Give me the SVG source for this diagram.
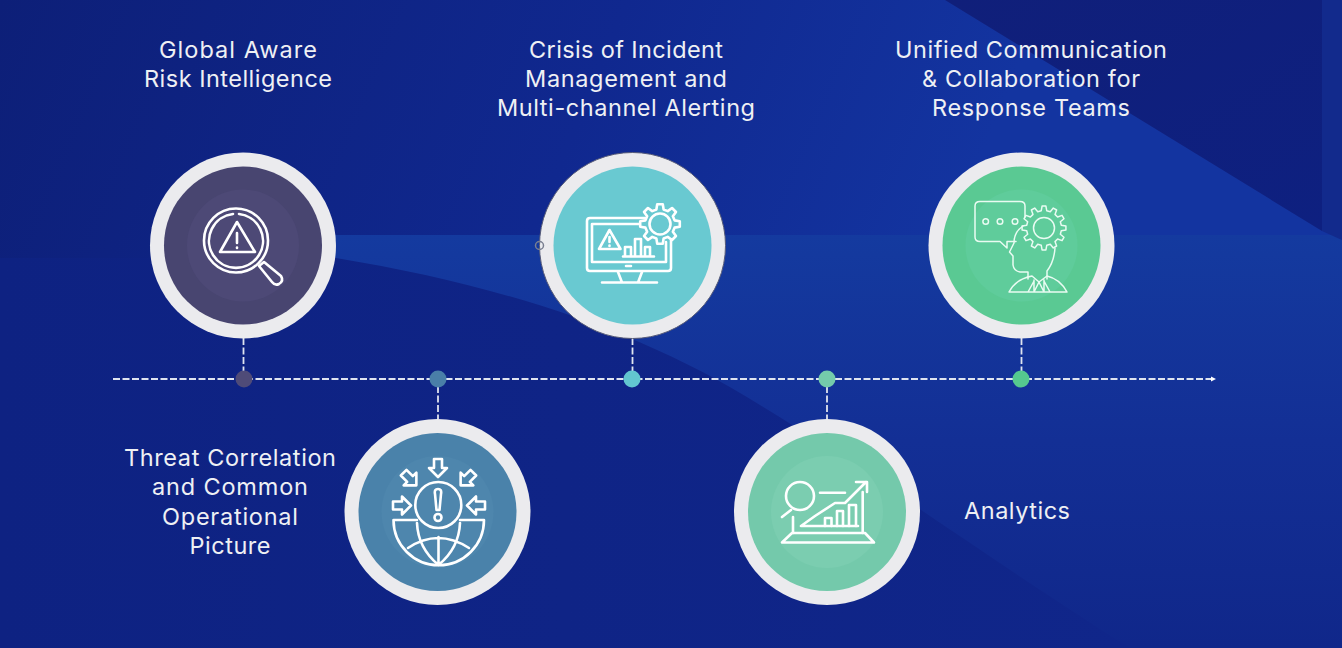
<svg xmlns="http://www.w3.org/2000/svg" width="1342" height="648" viewBox="0 0 1342 648">
<defs>
<linearGradient id="bg" x1="0" y1="0" x2="1" y2="0.2"><stop offset="0" stop-color="#0d1f78"/><stop offset="0.45" stop-color="#10288f"/><stop offset="0.75" stop-color="#1334a0"/><stop offset="1" stop-color="#1334a0"/></linearGradient>
<linearGradient id="band" x1="0" y1="0" x2="0" y2="1"><stop offset="0" stop-color="#143a9f"/><stop offset="0.5" stop-color="#132f95"/><stop offset="1" stop-color="#10278a"/></linearGradient>
<linearGradient id="low" x1="0" y1="0" x2="1" y2="0"><stop offset="0" stop-color="#0e2282"/><stop offset="1" stop-color="#10268a"/></linearGradient>
<linearGradient id="wedge" x1="0" y1="0" x2="1" y2="1"><stop offset="0" stop-color="#101f7a"/><stop offset="1" stop-color="#0e2080"/></linearGradient>
<marker id="ah" markerUnits="userSpaceOnUse" markerWidth="6" markerHeight="6" refX="3" refY="3" orient="auto"><path d="M0 0.5L5 3L0 5.5Z" fill="#fff"/></marker>
<path id="gear8" d="M14.55 -3.63L19.8 -2.78V2.78L14.55 3.63L12.86 7.73L15.97 12.04L12.04 15.97L7.73 12.86L3.63 14.55L2.78 19.8H-2.78L-3.63 14.55L-7.73 12.86L-12.04 15.97L-15.97 12.04L-12.86 7.73L-14.55 3.63L-19.8 2.78V-2.78L-14.55 -3.63L-12.86 -7.73L-15.97 -12.04L-12.04 -15.97L-7.73 -12.86L-3.63 -14.55L-2.78 -19.8H2.78L3.63 -14.55L7.73 -12.86L12.04 -15.97L15.97 -12.04L12.86 -7.73Z"/>
<path id="gear12" d="M17.28 -2.74L21.92 -1.92V1.92L17.28 2.74L16.34 6.27L19.94 9.3L18.02 12.62L13.6 11.01L11.01 13.6L12.62 18.02L9.3 19.94L6.27 16.34L2.74 17.28L1.92 21.92H-1.92L-2.74 17.28L-6.27 16.34L-9.3 19.94L-12.62 18.02L-11.01 13.6L-13.6 11.01L-18.02 12.62L-19.94 9.3L-16.34 6.27L-17.28 2.74L-21.92 1.92V-1.92L-17.28 -2.74L-16.34 -6.27L-19.94 -9.3L-18.02 -12.62L-13.6 -11.01L-11.01 -13.6L-12.62 -18.02L-9.3 -19.94L-6.27 -16.34L-2.74 -17.28L-1.92 -21.92H1.92L2.74 -17.28L6.27 -16.34L9.3 -19.94L12.62 -18.02L11.01 -13.6L13.6 -11.01L18.02 -12.62L19.94 -9.3L16.34 -6.27Z"/>
<path id="arr" d="M-4 -9H4V0H9L0 9L-9 0H-4Z"/>
</defs>
<style>
text{font-family:"Inter","Liberation Sans",sans-serif;font-size:23.5px;font-weight:400;fill:#eef0f4;text-anchor:middle}
.ring{fill:#ebebee}
.ic{fill:none;stroke:#fff;stroke-width:2.6;stroke-linecap:round;stroke-linejoin:round}
.th{stroke:#e9fbf2;stroke-width:1.5}
.conn{stroke:#dfe4ef;stroke-width:1.8;stroke-dasharray:7 2.5;fill:none}
</style>
<rect width="1342" height="648" fill="url(#bg)"/>
<path d="M336 235H1342V648H0V300Z" fill="url(#band)"/>
<path d="M336 258C500 285 640 330 760 405C860 465 990 560 1130 648H0V258Z" fill="url(#low)"/>
<path d="M945 0L1322 231V0Z" fill="url(#wedge)"/>
<path d="M1322 0H1342V240L1322 231Z" fill="#122a8c"/>

<g id="connectors">
<line class="conn" x1="113" y1="379" x2="1214" y2="379" marker-end="url(#ah)"/>
<line class="conn" x1="243.500" y1="338" x2="243.500" y2="372"/>
<line class="conn" x1="632.500" y1="338" x2="632.500" y2="372"/>
<line class="conn" x1="1021.500" y1="338" x2="1021.500" y2="372"/>
<line class="conn" x1="438" y1="386" x2="438" y2="419"/>
<line class="conn" x1="827" y1="386" x2="827" y2="419"/>
<circle cx="244" cy="379" r="8.500" fill="#4f4b78"/>
<circle cx="438" cy="379" r="8.500" fill="#4a7fa8"/>
<circle cx="632" cy="379" r="8.500" fill="#62c6d0"/>
<circle cx="827" cy="379" r="8.500" fill="#74cbab"/>
<circle cx="1021" cy="379" r="8.500" fill="#55c98f"/>
</g>

<g id="node-global-aware">
<text x="238" y="58" textLength="158">Global Aware</text><text x="238" y="87" textLength="188">Risk Intelligence</text>
<circle class="ring" cx="243" cy="245.500" r="93"/><circle cx="243" cy="245.500" r="79" fill="#484570"/><circle cx="243" cy="245.500" r="56" fill="#4d4976"/>
<circle class="ic" cx="236" cy="240.500" r="32"/>
<path class="ic" d="M239 214A27 27 0 1 1 233 214"/>
<path class="ic" d="M237 222L255 252H220Z"/><path class="ic" d="M237 233V243M237 247.500V248"/>
<path class="ic" d="M259 266L264 262L281 276Q284 281 279 284Q275 286 272 282Z"/>
</g>

<g id="node-crisis">
<text x="626" y="58" textLength="194">Crisis of Incident</text><text x="626" y="87" textLength="202">Management and</text><text x="626" y="116" textLength="258">Multi-channel Alerting</text>
<circle class="ring" cx="632.500" cy="245.500" r="93" stroke="#555a78" stroke-width="1"/><circle cx="632.500" cy="245.500" r="79" fill="#69c9d1"/>
<circle cx="539.500" cy="245.500" r="4" fill="none" stroke="#7a7f90" stroke-width="1.500"/>
<path class="ic" d="M645 218H590Q587 218 587 221V268Q587 271 590 271H668Q671 271 671 268V240M645 224H592V262H666V242"/>
<use href="#gear8" class="ic" style="fill:#69c9d1" transform="translate(660,224)"/>
<circle class="ic" cx="660" cy="224" r="10.500"/>
<path class="ic" d="M609.500 230L620.500 249H599Z"/><path class="ic" d="M609.500 237V242M609.500 245.500V246"/>
<path class="ic" d="M623 256.500H654M625 256.500V247H631V256.500M635 256.500V239H641V256.500M645 256.500V247H650V256.500M626 266H631"/>
<path class="ic" d="M618 272L622 282.500M642 272L638 282.500M602 282.500H657"/>
</g>

<g id="node-unified">
<text x="1031" y="58" textLength="272">Unified Communication</text><text x="1031" y="87" textLength="218">&amp; Collaboration for</text><text x="1031" y="116" textLength="198">Response Teams</text>
<circle class="ring" cx="1021.500" cy="245.500" r="93"/><circle cx="1021.500" cy="245.500" r="79" fill="#5ac993"/><circle cx="1021.500" cy="245.500" r="56" fill="#5fcc9b"/>
<g class="ic th">
<path d="M1025 217V206Q1025 201.500 1020 201.500H980Q975 201.500 975 206V237Q975 241.500 980 241.500H1000L1007 248V241.500H1016"/>
<circle cx="985.700" cy="221.500" r="2.800"/><circle cx="1000" cy="221.500" r="2.800"/><circle cx="1015" cy="221.500" r="2.800"/>
<use href="#gear12" transform="translate(1044,228)"/>
<circle cx="1044" cy="228" r="10.500"/>
<path d="M1023 226Q1014 232 1014 243L1009.500 252L1013 256V265Q1014 271 1020 272H1028V279M1055 248Q1054 262 1047 271V279"/>
<path d="M1009 292Q1016 279 1032 276L1039 282L1047 276Q1060 279 1067 292ZM1034 280V292M1044 280V292M1039 282L1034 292M1028 292L1034 281M1039 282L1044 292M1050 292L1044 281"/>
</g>
</g>

<g id="node-threat">
<text x="230" y="466" textLength="212">Threat Correlation</text><text x="230" y="495" textLength="156">and Common</text><text x="230" y="525" textLength="136">Operational</text><text x="230" y="554" textLength="81">Picture</text>
<circle class="ring" cx="437.500" cy="512" r="93"/><circle cx="437.500" cy="512" r="79" fill="#4a82aa"/><circle cx="437.500" cy="512" r="56" fill="#4e86ad"/>
<g class="ic">
<circle cx="438.300" cy="505" r="23"/>
<path d="M438 489Q434 489 435 494L436.500 510H439.500L441 494Q442 489 438 489Z"/><circle cx="438" cy="517.500" r="3.500"/>
<path d="M417 520H393.500A45 45 0 0 0 484 520H460"/>
<path d="M408 548Q438 528 469 548M438.500 537V565M417 523Q418 548 438.500 565Q459 548 460 523"/>
<use href="#arr" transform="translate(438,468)"/>
<use href="#arr" transform="translate(410,479) rotate(-45)"/>
<use href="#arr" transform="translate(467,479) rotate(45)"/>
<use href="#arr" transform="translate(402,505.500) rotate(-90)"/>
<use href="#arr" transform="translate(476,505.500) rotate(90)"/>
</g>
</g>

<g id="node-analytics">
<text x="1017" y="519" textLength="106">Analytics</text>
<circle class="ring" cx="827" cy="512" r="93"/><circle cx="827" cy="512" r="79" fill="#74c9ab"/><circle cx="827" cy="512" r="56" fill="#7bcdb0"/>
<g class="ic">
<circle cx="800" cy="496" r="14"/><path d="M791 510L782 517M820 492.700H845M862.700 492V533M793 517V533"/>
<path d="M792 533H865L874 542.500H782Z"/>
<path d="M801 526L815 516L835 503H845L866 482M856 482H867V492M801 526H858"/>
<path d="M825 526V518H831.500V526M837 526V511H843V526M849 526V505H856V526"/>
</g>
</g>
</svg>
